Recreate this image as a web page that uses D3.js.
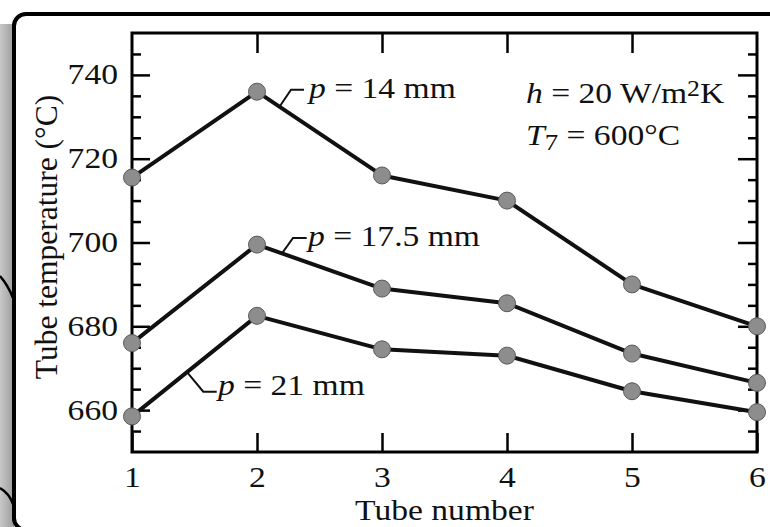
<!DOCTYPE html>
<html>
<head>
<meta charset="utf-8">
<script src="https://cdn.jsdelivr.net/npm/d3@7"></script>
<style>
  body { margin: 0; background: #fff; }
  svg text { font-family: "Liberation Serif", "Times New Roman", serif; fill: #111; }
</style>
</head>
<body>
<svg></svg>
<script>
// Data
const tubes = [1, 2, 3, 4, 5, 6];
const p14 = [715.5, 736, 716, 710, 690, 680];
const p175 = [676, 699.5, 689, 685.5, 673.5, 666.5];
const p21 = [658.5, 682.5, 674.5, 673, 664.5, 659.5];
const seriesLabels = ["= 14 mm", "= 17.5 mm", "= 21 mm"];
const yMajor = [660, 680, 700, 720, 740];
const yMinor = [655, 665, 670, 675, 685, 690, 695, 705, 710, 715, 725, 730, 735, 745];
const xTicks = [1, 2, 3, 4, 5, 6];

const w = 770;
const h = 527;
const sx = 1.12; // the original art is a little wide horizontally

const svg = d3.select("svg")
  .attr("width", w)
  .attr("height", h);

// Page frame with left shadow
const defs = svg.append("defs");
const grad = defs.append("linearGradient").attr("id", "shade");
grad.append("stop").attr("offset", "0%").attr("stop-color", "#c8c8c8");
grad.append("stop").attr("offset", "100%").attr("stop-color", "#9c9c9c");

svg.append("rect")
  .attr("x", 0).attr("y", 24)
  .attr("width", 14).attr("height", h - 24)
  .attr("fill", "url(#shade)");

svg.append("path")
  .attr("d", "M0,276 Q8,285 13,298")
  .attr("fill", "none").attr("stroke", "#000").attr("stroke-width", 2.5);
svg.append("path")
  .attr("d", "M0,488 Q9,493 13,504")
  .attr("fill", "none").attr("stroke", "#000").attr("stroke-width", 2.5);

svg.append("rect")
  .attr("x", 14).attr("y", 14)
  .attr("width", 800).attr("height", 516)
  .attr("rx", 12)
  .attr("fill", "#fff")
  .attr("stroke", "#000")
  .attr("stroke-width", 4);

// Scales
const x = d3.scaleLinear().domain([1, 6]).range([132, 757]);
const y = d3.scaleLinear().domain([650, 750]).range([452, 33]);

// Axes (ticks point inward)
const axes = svg.append("g").attr("class", "axes");

const styleAxis = (g) => {
  g.attr("font-family", null);
  g.select(".domain").remove();
  g.selectAll("line").attr("stroke", "#000").attr("stroke-width", 2.5);
};

axes.append("g")
  .attr("transform", `translate(${x(1)},0)`)
  .call(d3.axisLeft(y).tickValues(yMinor).tickSize(-9).tickFormat(""))
  .call(styleAxis);
axes.append("g")
  .attr("transform", `translate(${x(6)},0)`)
  .call(d3.axisRight(y).tickValues(yMinor).tickSize(-9).tickFormat(""))
  .call(styleAxis);
axes.append("g")
  .attr("transform", `translate(${x(6)},0)`)
  .call(d3.axisRight(y).tickValues(yMajor).tickSize(-19).tickFormat(""))
  .call(styleAxis);

const yAxis = axes.append("g")
  .attr("transform", `translate(${x(1)},0)`)
  .call(d3.axisLeft(y).tickValues(yMajor).tickSize(-18).tickPadding(14).tickFormat(d3.format("d")))
  .call(styleAxis);
yAxis.selectAll("text")
  .attr("font-size", 30)
  .attr("x", -14 / sx)
  .attr("dy", 9)
  .attr("transform", `scale(${sx},1)`);

axes.append("g")
  .attr("transform", `translate(0,${y(750)})`)
  .call(d3.axisTop(x).tickValues(xTicks.slice(1, -1)).tickSize(-20).tickFormat(""))
  .call(styleAxis);

const xAxis = axes.append("g")
  .attr("transform", `translate(0,${y(650)})`)
  .call(d3.axisBottom(x).tickValues(xTicks).tickSize(-19).tickPadding(0).tickFormat(d3.format("d")))
  .call(styleAxis);
xAxis.selectAll("text")
  .attr("font-size", 30)
  .attr("x", 0)
  .attr("y", 35)
  .attr("dy", 0)
  .attr("transform", `scale(${sx},1)`);

// Plot box
svg.append("rect")
  .attr("x", x(1)).attr("y", y(750))
  .attr("width", x(6) - x(1)).attr("height", y(650) - y(750))
  .attr("fill", "none")
  .attr("stroke", "#000")
  .attr("stroke-width", 3);

// Axis titles
svg.append("text")
  .attr("transform", `translate(${(x(1) + x(6)) / 2},520) scale(${sx},1)`)
  .attr("text-anchor", "middle")
  .attr("font-size", 30)
  .text("Tube number");

svg.append("text")
  .attr("transform", "translate(57,237) rotate(-90)")
  .attr("text-anchor", "middle")
  .attr("font-size", 31.5)
  .text("Tube temperature (°C)");

// Series
const series = [p14, p175, p21];
const line = d3.line()
  .x((d, i) => x(tubes[i]))
  .y((d) => y(d));

svg.append("g")
  .selectAll("path")
  .data(series)
  .enter()
  .append("path")
  .attr("d", line)
  .attr("fill", "none")
  .attr("stroke", "#111")
  .attr("stroke-width", 4)
  .attr("stroke-linejoin", "round");

// Leader labels
const notes = [
  { s: 0, t: 2.18, elbow: [11.5, -17], end: 24.5, text: [29.5, -9] },
  { s: 1, t: 2.2, elbow: [11, -15.4], end: 24.7, text: [26, -7.7] },
  { s: 2, t: 1.44, elbow: [16.3, 19.6], end: 29.7, text: [31, 23] }
];

const notesG = svg.append("g");
notes.forEach((n) => {
  const vals = series[n.s];
  const i0 = Math.floor(n.t) - 1;
  const f = n.t - Math.floor(n.t);
  const v = vals[i0] + f * (vals[i0 + 1] - vals[i0]);
  const ax = x(n.t);
  const ay = y(v);
  notesG.append("path")
    .attr("d", `M${ax},${ay} L${ax + n.elbow[0]},${ay + n.elbow[1]} L${ax + n.end},${ay + n.elbow[1]}`)
    .attr("fill", "none")
    .attr("stroke", "#111")
    .attr("stroke-width", 2);
  const t = notesG.append("text")
    .attr("transform", `translate(${ax + n.text[0]},${ay + n.text[1]}) scale(${sx},1)`)
    .attr("font-size", 30);
  t.append("tspan").attr("font-style", "italic").text("p");
  t.append("tspan").text(" " + seriesLabels[n.s]);
});

// Markers
svg.append("g")
  .selectAll("g")
  .data(series)
  .enter()
  .append("g")
  .selectAll("circle")
  .data((d) => d)
  .enter()
  .append("circle")
  .attr("cx", (d, i) => x(tubes[i]))
  .attr("cy", (d) => y(d))
  .attr("r", 8.5)
  .attr("fill", "#8d8d8d")
  .attr("stroke", "#5a5a5a")
  .attr("stroke-width", 1);

// Conditions text
const cond = svg.append("g");
const t1 = cond.append("text")
  .attr("transform", `translate(526,103) scale(${sx},1)`)
  .attr("font-size", 30);
t1.append("tspan").attr("font-style", "italic").text("h");
t1.append("tspan").text(" = 20 W/m");
t1.append("tspan").attr("font-size", 23).attr("dy", -7).text("2");
t1.append("tspan").attr("dy", 7).text("K");

const t2 = cond.append("text")
  .attr("transform", `translate(526,145) scale(${sx},1)`)
  .attr("font-size", 30);
t2.append("tspan").attr("font-style", "italic").text("T");
t2.append("tspan").attr("font-size", 24).attr("dy", 5).text("7");
t2.append("tspan").attr("dy", -5).text(" = 600°C");
</script>
</body>
</html>
